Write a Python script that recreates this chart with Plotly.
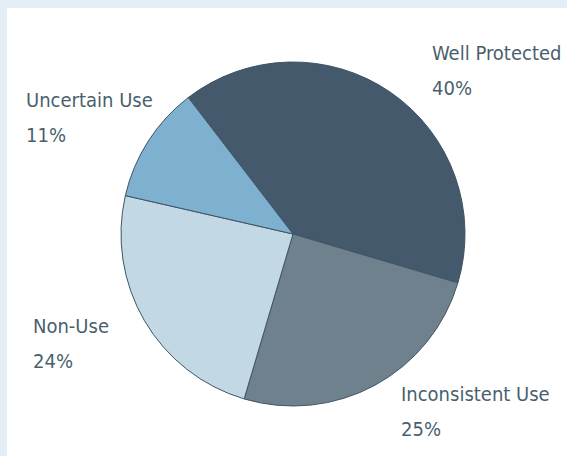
import plotly.graph_objects as go

# Condom-use categories and their shares (%)
categories = ["Well Protected", "Inconsistent Use", "Non-Use", "Uncertain Use"]
shares = [40, 25, 24, 11]
slice_colors = ["#44596b", "#6f818d", "#c2d8e5", "#7eb0cf"]

W, H = 567, 456

fig = go.Figure(
    go.Pie(
        labels=categories,
        values=shares,
        sort=False,
        direction="clockwise",
        rotation=-37.5,
        textinfo="none",
        hoverinfo="label+percent",
        marker=dict(colors=slice_colors, line=dict(color="#3f5466", width=1)),
        domain=dict(x=[121 / W, 465 / W], y=[(H - 406) / H, (H - 62) / H]),
        showlegend=False,
    )
)

# label placement (left edge x, first-line centre y) in pixels
label_pos = {
    "Well Protected": (430, 53),
    "Inconsistent Use": (399, 394),
    "Non-Use": (31, 326),
    "Uncertain Use": (24, 100),
}
line_gap = 35
text_color = "#4a5f6e"

annotations = []
for name, val in zip(categories, shares):
    x0, y0 = label_pos[name]
    for i, txt in enumerate([name, f"{val}%"]):
        annotations.append(
            dict(
                x=x0 / W,
                y=1 - (y0 + i * line_gap) / H,
                xref="paper",
                yref="paper",
                xanchor="left",
                yanchor="middle",
                showarrow=False,
                text=txt,
                font=dict(family="DejaVu Sans Condensed, sans-serif",
                          size=20, color=text_color),
            )
        )

# light frame along the top and left edges
frame = "#e4ecf4"
shapes = [
    dict(type="rect", xref="paper", yref="paper", x0=0, x1=1, y0=1 - 8 / H, y1=1,
         fillcolor=frame, line=dict(width=0), layer="below"),
    dict(type="rect", xref="paper", yref="paper", x0=0, x1=7 / W, y0=0, y1=1,
         fillcolor=frame, line=dict(width=0), layer="below"),
]

fig.update_layout(
    width=W,
    height=H,
    margin=dict(l=0, r=0, t=0, b=0),
    paper_bgcolor="white",
    plot_bgcolor="white",
    annotations=annotations,
    shapes=shapes,
)

fig.write_html("out.html")
